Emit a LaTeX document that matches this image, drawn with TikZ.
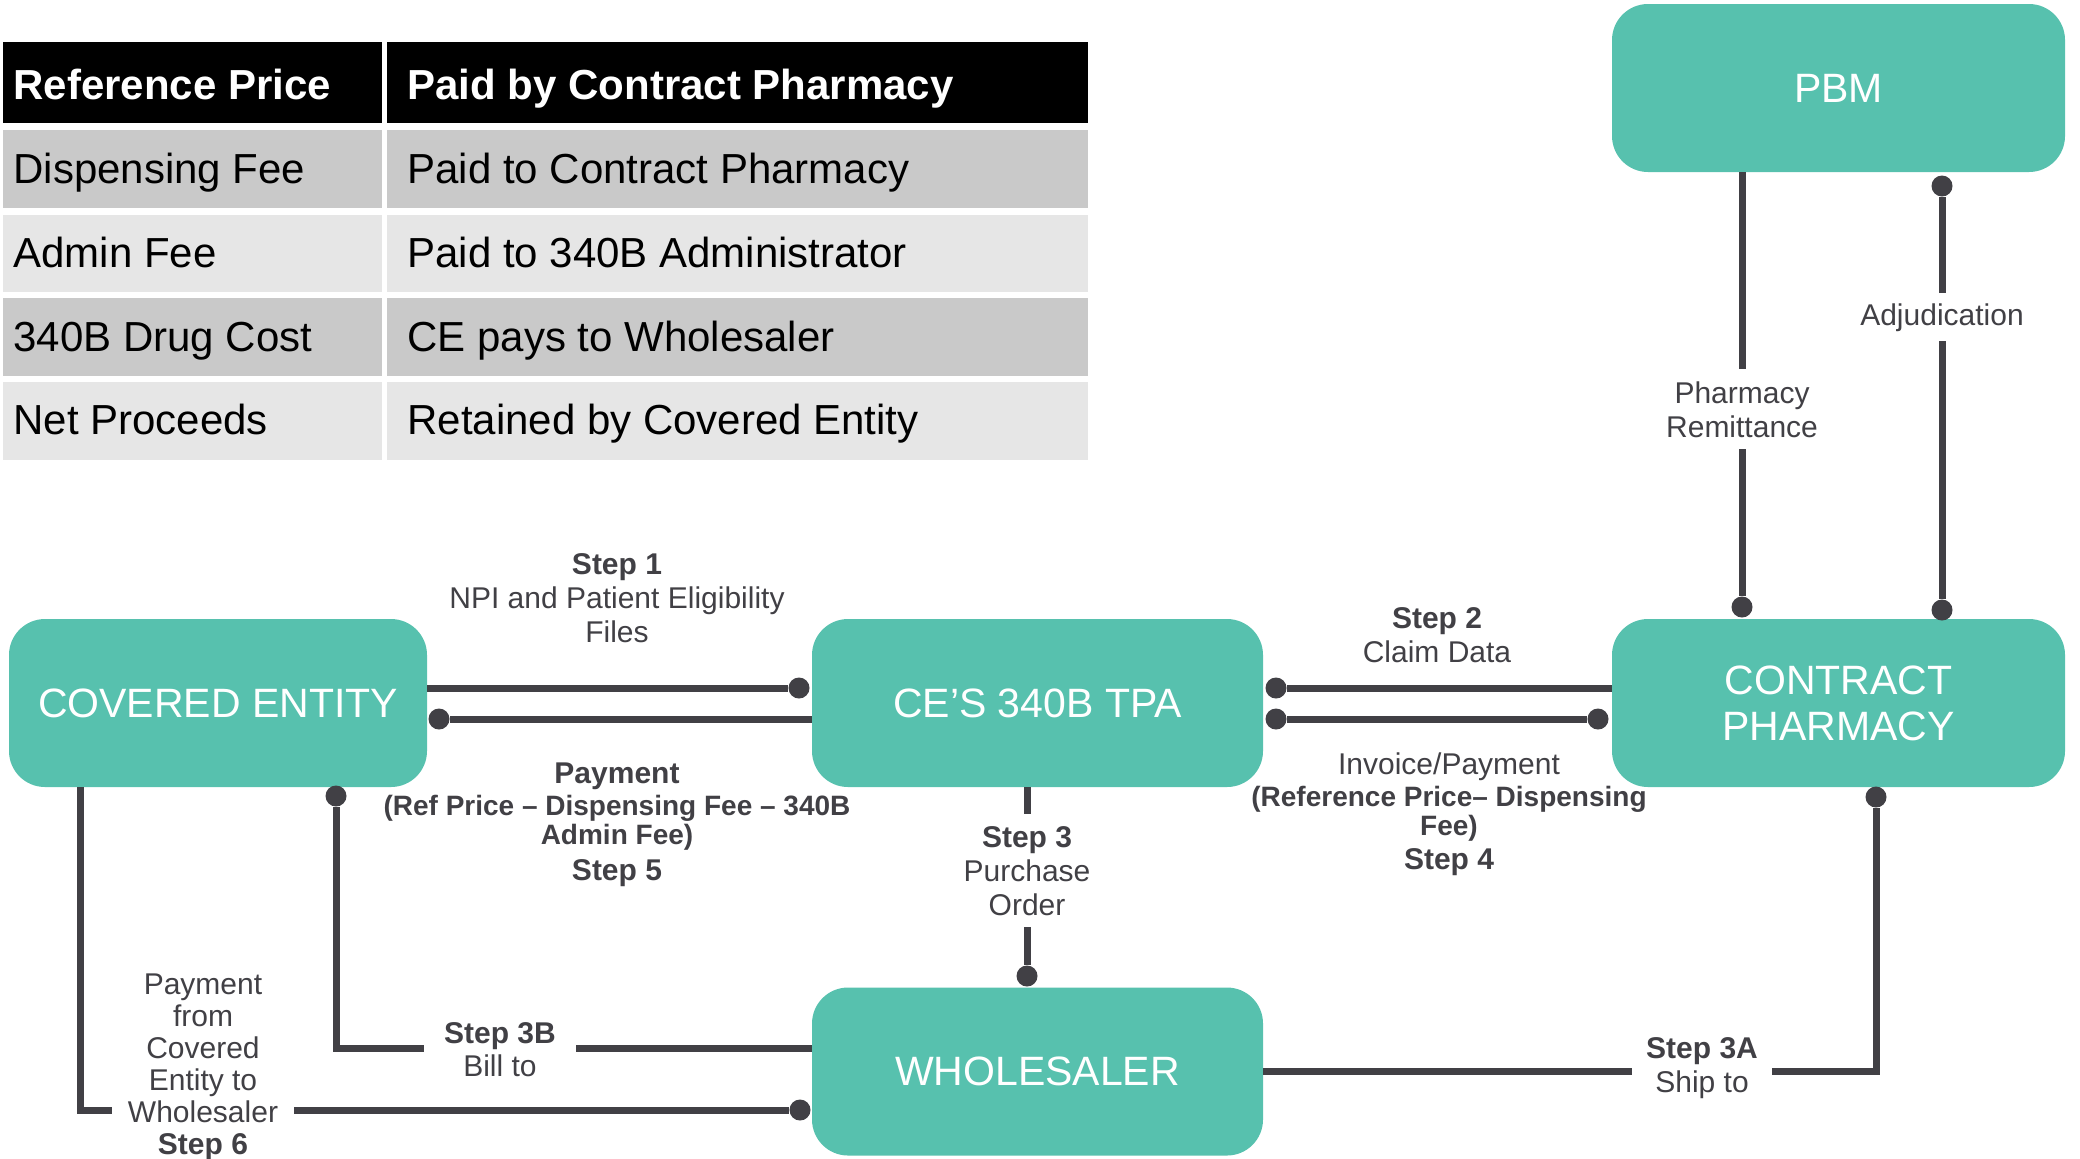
\documentclass[tikz,border=0pt]{standalone}
\usepackage{fontspec}
\setmainfont{Liberation Sans}
\definecolor{boxteal}{HTML}{57C1AE}
\definecolor{linedark}{HTML}{414045}
\definecolor{rowdark}{HTML}{C9C9C9}
\definecolor{rowlight}{HTML}{E6E6E6}
\begin{document}
\begin{tikzpicture}[x=0.5pt,y=-0.5pt,
  box/.style={fill=boxteal, rounded corners=18pt, text=white, font=\fontsize{20.5}{23}\selectfont, minimum height=84pt, inner sep=0pt, align=center},
  conn/.style={draw=linedark, line width=3.5pt},
  dot/.style={circle, fill=linedark, minimum size=10.5pt, inner sep=0pt},
  lbl/.style={text=linedark, font=\fontsize{15}{17}\selectfont, align=center, inner sep=0pt, anchor=base},
  lblsmall/.style={lbl, font=\bfseries\fontsize{14}{16}\selectfont},
  gap/.style={fill=white},
  hdr/.style={text=white, font=\bfseries\fontsize{21}{24}\selectfont, anchor=base west, inner sep=0pt},
  cell/.style={text=black, font=\fontsize{21}{24}\selectfont, anchor=base west, inner sep=0pt},
]
\useasboundingbox (0,0) rectangle (2080,1158);
% ---------- table ----------
\fill[black] (3,42) rectangle (382,123);
\fill[black] (387,42) rectangle (1088,123);
\fill[rowdark] (3,130) rectangle (382,208);
\fill[rowdark] (387,130) rectangle (1088,208);
\fill[rowlight] (3,215) rectangle (382,292);
\fill[rowlight] (387,215) rectangle (1088,292);
\fill[rowdark] (3,298) rectangle (382,376);
\fill[rowdark] (387,298) rectangle (1088,376);
\fill[rowlight] (3,382) rectangle (382,460);
\fill[rowlight] (387,382) rectangle (1088,460);
\node[hdr] (h1) at (13,99) {Reference Price};
\node[hdr] (h2) at (407,99) {Paid by Contract Pharmacy};
\node[cell] (a1) at (13,183) {Dispensing Fee};
\node[cell] (b1) at (407,183) {Paid to Contract Pharmacy};
\node[cell] (a2) at (13,267) {Admin Fee};
\node[cell] (b2) at (407,267) {Paid to 340B Administrator};
\node[cell] (a3) at (13,351) {340B Drug Cost};
\node[cell] (b3) at (407,351) {CE pays to Wholesaler};
\node[cell] (a4) at (13,434) {Net Proceeds};
\node[cell] (b4) at (407,434) {Retained by Covered Entity};
% ---------- boxes ----------
\node[box, minimum width=226.5pt] (pbm) at (1838.5,88) {PBM};
\node[box, minimum width=226.5pt] (cp) at (1838.5,703) {CONTRACT\\PHARMACY};
\node[box, minimum width=209pt] (ce) at (218,703) {COVERED ENTITY};
\node[box, minimum width=225.5pt] (tpa) at (1037.5,703) {CE’S 340B TPA};
\node[box, minimum width=225.5pt] (wh) at (1037.5,1071.5) {WHOLESALER};
% ---------- dots ----------
\node[dot] (d1) at (799,688) {};
\node[dot] (d5) at (439,719) {};
\node[dot] (d2) at (1276,688) {};
\node[dot] (d4a) at (1276,719) {};
\node[dot] (d4b) at (1598,719) {};
\node[dot] (d3) at (1027,976) {};
\node[dot] (d3a) at (1876,797) {};
\node[dot] (d3b) at (336,796) {};
\node[dot] (d6) at (800,1110) {};
\node[dot] (dpr) at (1742,607) {};
\node[dot] (dadj1) at (1942,186) {};
\node[dot] (dadj2) at (1942,610) {};
\coordinate (c3b) at (336,1048);
\coordinate (c6) at (80,1110);
% ---------- connectors ----------
\draw[conn] (ce.east |- d1) -- (d1);
\draw[conn] (tpa.west |- d5) -- (d5);
\draw[conn] (d2) -- (cp.west |- d2);
\draw[conn] (d4a) -- (d4b);
\draw[conn] (d3 |- tpa.south) -- (d3);
\draw[conn] (wh.east) -- (d3a |- wh.east) -- (d3a);
\draw[conn] (d3b) -- (c3b) -- (wh.west |- c3b);
\draw[conn] (ce.south -| c6) -- (c6) -- (d6);
\draw[conn] (pbm.south -| dpr) -- (dpr);
\draw[conn] (dadj1) -- (dadj2);
% ---------- labels (multi-line: anchored at last baseline) ----------
\node[lbl] (l1) at (617,642) {\textbf{Step 1}\\NPI and Patient Eligibility\\Files};
\node[lbl] (l5a) at (617,783) {\textbf{Payment}};
\node[lblsmall] (l5b) at (617,815) {(Ref Price – Dispensing Fee – 340B};
\node[lblsmall] (l5c) at (617,844) {Admin Fee)};
\node[lbl] (l5d) at (617,880) {\textbf{Step 5}};
\node[lbl] (l2) at (1437,662) {\textbf{Step 2}\\Claim Data};
\node[lbl] (l4a) at (1449,774) {Invoice/Payment};
\node[lblsmall] (l4b) at (1449,806) {(Reference Price– Dispensing};
\node[lblsmall] (l4c) at (1449,835) {Fee)};
\node[lbl] (l4d) at (1449,869) {\textbf{Step 4}};
\node[lbl, gap, inner xsep=4pt, inner ysep=6pt] (l3) at (1027,915) {\textbf{Step 3}\\Purchase\\Order};
\node[lbl, gap, font=\fontsize{15}{16.5}\selectfont, inner xsep=10pt, inner ysep=2pt] (l3b) at (500,1076) {\textbf{Step 3B}\\Bill to};
\node[lbl, gap, font=\fontsize{15}{17}\selectfont, inner xsep=7pt, inner ysep=2pt] (l3a) at (1702,1092) {\textbf{Step 3A}\\Ship to};
\node[lbl, gap, font=\fontsize{15}{16}\selectfont, inner xsep=8pt, inner ysep=2pt] (l6) at (203,1154) {Payment\\from\\Covered\\Entity to\\Wholesaler\\\textbf{Step 6}};
\node[lbl, gap, inner xsep=3pt, inner ysep=6pt] (lpr) at (1742,437) {Pharmacy\\Remittance};
\node[lbl, gap, inner xsep=3pt, inner ysep=5pt] (ladj) at (1942,325) {Adjudication};
\end{tikzpicture}
\end{document}
